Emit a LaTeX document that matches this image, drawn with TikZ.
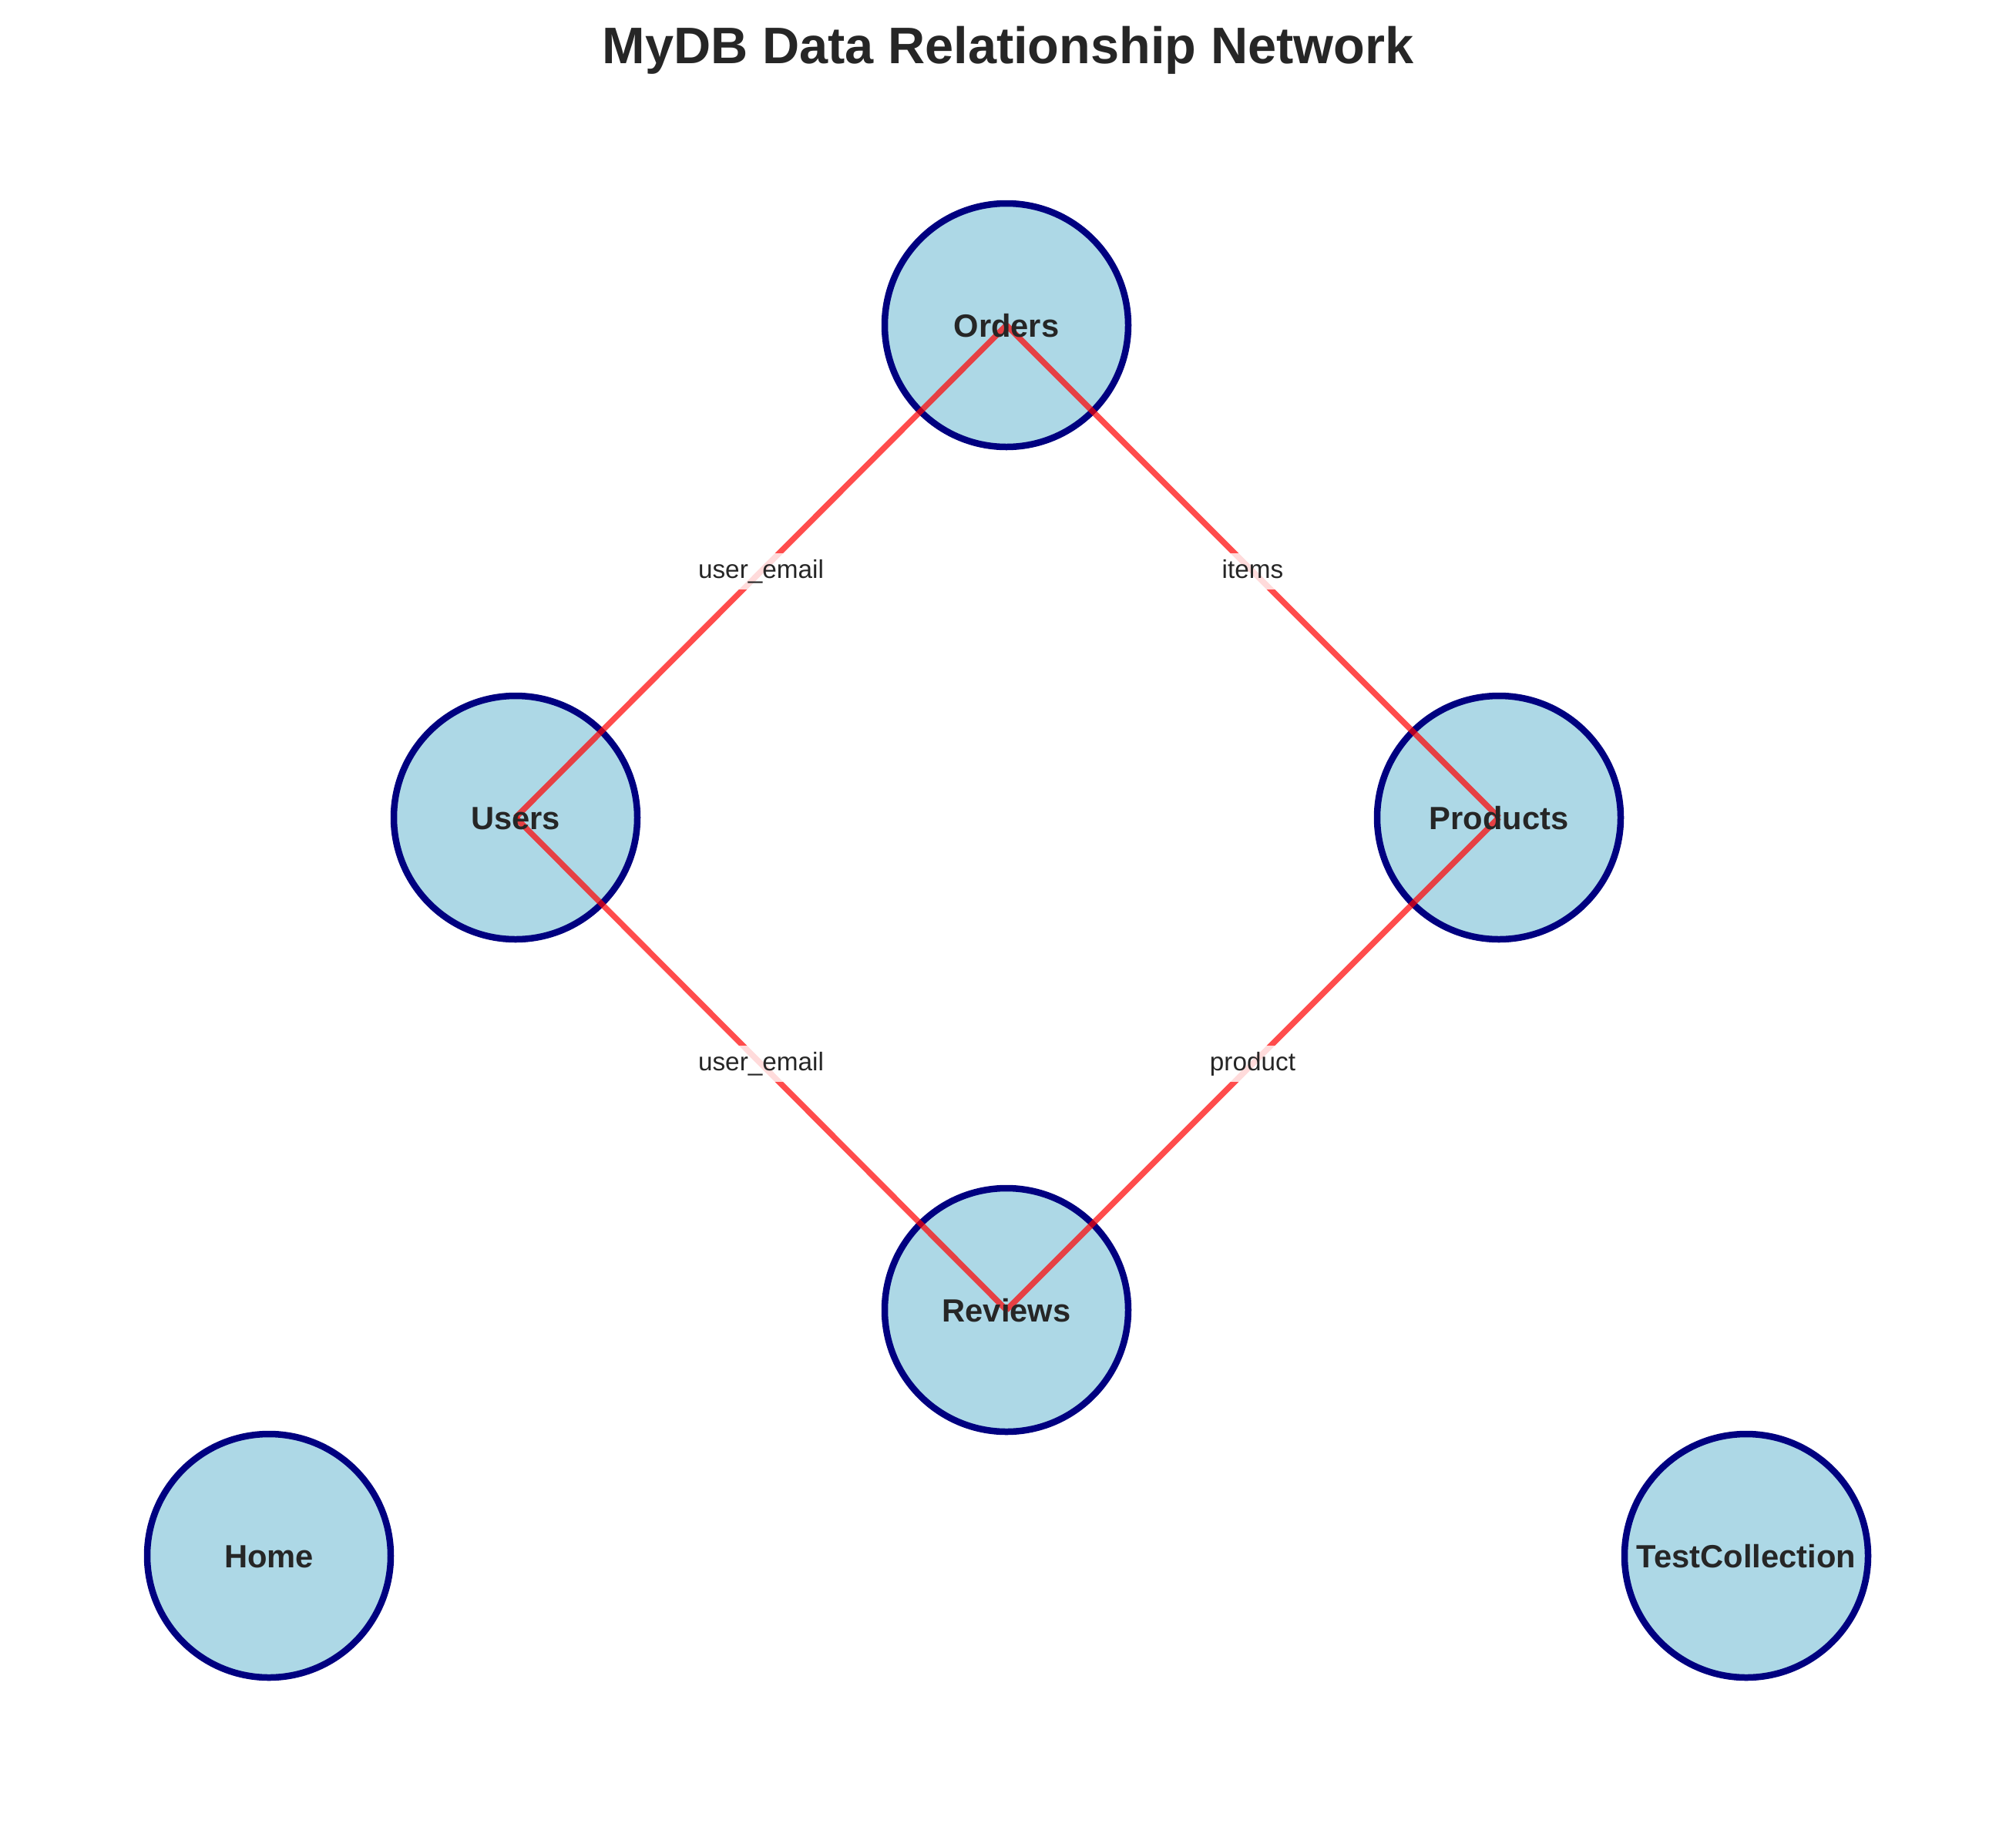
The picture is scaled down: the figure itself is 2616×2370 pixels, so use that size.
\documentclass[tikz,border=0pt]{standalone}
\usepackage{fontspec}
\setmainfont{Liberation Sans}
\definecolor{nodefill}{HTML}{ADD8E6}
\definecolor{nodeline}{HTML}{000080}
\definecolor{txt}{HTML}{262626}
\definecolor{edgered}{HTML}{FF0000}
\tikzset{
  coll/.style={circle, draw=nodeline, fill=nodefill, line width=8.5pt, minimum size=316pt, inner sep=0pt},
  colltext/.style={text=txt, font=\fontsize{41.7}{50}\selectfont\bfseries, text height=30pt, text depth=0pt, inner sep=0pt},
  rel/.style={draw=edgered, draw opacity=0.7, line width=7.5pt},
  rellabel/.style={text=txt, font=\fontsize{33.3}{40}\selectfont, fill=white, fill opacity=0.8, text opacity=1, text height=24pt, text depth=7pt, inner xsep=4pt, inner ysep=8pt},
}
\begin{document}
\begin{tikzpicture}[x=1pt,y=-1pt]
\useasboundingbox[fill=white] (0,0) rectangle (2616,2370);
\node[text=txt, font=\fontsize{66.7}{80}\selectfont\bfseries, anchor=base] (title) at (1308,82) {MyDB Data Relationship Network};
% circles
\node[coll] (orders) at (1306,422) {};
\node[coll] (users) at (669,1061) {};
\node[coll] (products) at (1945,1061) {};
\node[coll] (reviews) at (1306,1700) {};
\node[coll] (home) at (349,2019) {};
\node[coll] (test) at (2266,2019) {};
% edges
\draw[rel] (orders.center) -- (users.center) node[pos=0.5, rellabel] (l1) {user\_email};
\draw[rel] (orders.center) -- (products.center) node[pos=0.5, rellabel] (l2) {items};
\draw[rel] (users.center) -- (reviews.center) node[pos=0.5, rellabel] (l3) {user\_email};
\draw[rel] (products.center) -- (reviews.center) node[pos=0.5, rellabel] (l4) {product};
% labels
\node[colltext] (tOrders) at (orders.center) {Orders};
\node[colltext] (tUsers) at (users.center) {Users};
\node[colltext] (tProducts) at (products.center) {Products};
\node[colltext] (tReviews) at (reviews.center) {Reviews};
\node[colltext] (tHome) at (home.center) {Home};
\node[colltext] (tTest) at (test.center) {TestCollection};
\end{tikzpicture}
\end{document}
